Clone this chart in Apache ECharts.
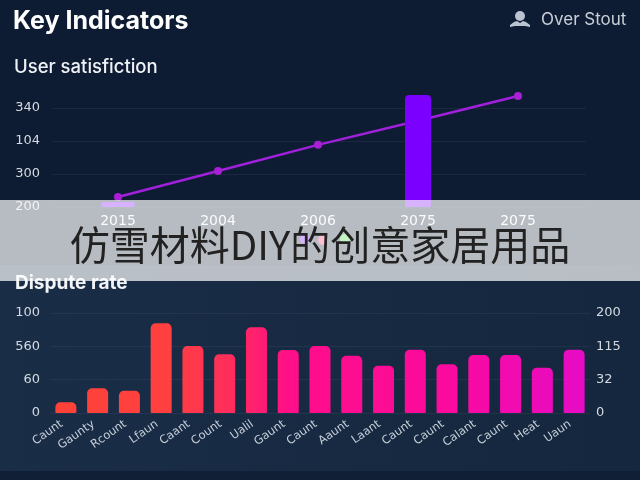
<!DOCTYPE html>
<html><head><meta charset="utf-8">
<style>html,body{margin:0;padding:0;background:#0e1c33}#c{width:640px;height:480px}</style>
<script src="https://cdn.jsdelivr.net/npm/echarts@6/dist/echarts.min.js"></script>
</head><body><div id="c"></div>
<script>
const years = ['2015','2004','2006','2075','2075'];
const lineValues = [230,309,388,461,536];
const wideBars = [215,null,null,null,null];
const narrowBars = [null,null,null,539,null];
const topTickValues = [200,300,400,500];
const topTickLabels = ['200','300','104','340'];
const cats = ['Caunt','Gaunty','Rcount','Lfaun','Caant','Count','Ualil','Gaunt','Caunt','Aaunt','Laant','Caunt','Caunt','Calant','Caunt','Heat','Uaun'];
const disputeValues = [32,74,67,269,201,176,257,189,201,172,142,190,146,174,174,136,190];
const leftLabels = ['0','60','560','100'];
const rightLabels = ['0','32','115','200'];
const bannerText = '仿雪材料DIY的创意家居用品';

const dv = '"DejaVu Sans"';
const grid = 'rgba(255,255,255,0.05)';
const chart = echarts.init(document.getElementById('c'), null, {renderer:'canvas'});
const barGrad = new echarts.graphic.LinearGradient(0,0,640,0,[
  {offset:0.08,color:'#ff4238'},{offset:0.26,color:'#ff4040'},{offset:0.36,color:'#ff2d5c'},{offset:0.45,color:'#ff0f88'},
  {offset:0.7,color:'#fb0a9e'},{offset:0.92,color:'#e50cc6'}],true);

chart.setOption({
  animation:false,
  backgroundColor:'#0e1c33',
  grid:[
    {left:68,right:72,top:88,height:119},
    {left:52,right:54,top:88,height:119},
    {left:50,right:50,top:313,height:100},
    {left:68,right:72,top:88,height:119}
  ],
  xAxis:[
    {gridIndex:0,type:'category',data:years,axisLine:{show:false},axisTick:{show:false},
     axisLabel:{color:'#f2f4f7',fontSize:14,fontFamily:dv,margin:7}},
    {gridIndex:1,type:'category',data:years,show:false},
    {gridIndex:2,type:'category',data:cats,axisLine:{show:false},axisTick:{show:false},
     axisLabel:{color:'#c6ced8',fontSize:11.5,fontFamily:dv,rotate:35,margin:7,interval:0,padding:[0,5,0,0]}},
    {gridIndex:3,type:'category',data:years,show:false}
  ],
  yAxis:[
    {gridIndex:0,type:'value',min:200,max:560,interval:100,show:false},
    {gridIndex:1,type:'value',min:200,max:560,interval:100,axisLine:{show:false},axisTick:{show:false},
     splitLine:{lineStyle:{color:grid},showMaxLine:false},
     axisLabel:{color:'#d5dae1',fontSize:13,fontFamily:dv,margin:12,showMaxLabel:false,padding:[2,0,0,0],
       formatter:v=>{const i=topTickValues.indexOf(v);return i<0?'':topTickLabels[i];}}},
    {gridIndex:2,type:'value',min:0,max:300,interval:100,axisLine:{show:false},axisTick:{show:false},
     splitLine:{lineStyle:{color:grid}},
     axisLabel:{color:'#d5dae1',fontSize:13,fontFamily:dv,margin:10,padding:[0,0,2,0],
       formatter:v=>leftLabels[v/100]}},
    {gridIndex:2,type:'value',position:'right',min:0,max:300,interval:100,axisLine:{show:false},axisTick:{show:false},
     splitLine:{show:false},
     axisLabel:{color:'#d5dae1',fontSize:13,fontFamily:dv,margin:6,padding:[0,0,2,0],
       formatter:v=>rightLabels[v/100]}},
    {gridIndex:3,type:'value',min:200,max:560,interval:100,show:false}
  ],
  series:[
    {type:'line',xAxisIndex:0,yAxisIndex:0,data:lineValues,z:2,symbol:'circle',symbolSize:8,
     lineStyle:{color:'#a020dc',width:2.5},itemStyle:{color:'#a81fd6'}},
    {type:'bar',xAxisIndex:0,yAxisIndex:0,data:wideBars,barWidth:33,z:3,
     itemStyle:{color:'#7b00ff'}},
    {type:'bar',xAxisIndex:3,yAxisIndex:4,data:narrowBars,barWidth:26,z:3,
     itemStyle:{color:'#7b00ff',borderRadius:[4,4,0,0]}},
    {type:'bar',xAxisIndex:2,yAxisIndex:2,data:disputeValues,barWidth:21,
     itemStyle:{color:barGrad,borderRadius:[5,5,1,1]}}
  ],
  graphic:[
    {type:'rect',z:-10,shape:{x:0,y:265,width:640,height:206},
     style:{fill:new echarts.graphic.LinearGradient(0,0,1,0,[{offset:0,color:'#1a2d47'},{offset:1,color:'#15273e'}])}},
    {type:'rect',z:-10,shape:{x:0,y:471,width:640,height:9},style:{fill:'#101f35'}},
    {type:'text',z:5,style:{text:'Key Indicators',x:13,y:21,verticalAlign:'middle',fill:'#fff',font:'bold 25px Inter'}},
    {type:'text',z:5,style:{text:'Over Stout',x:541,y:20,verticalAlign:'middle',fill:'#c9cfd8',font:'17px Inter'}},
    {type:'circle',z:5,shape:{cx:520,cy:16,r:5},style:{fill:'#b9c3d2'}},
    {type:'polygon',z:5,shape:{points:[[510,27],[510,25],[514,22],[517,21],[520,23],[523,21],[526,22],[530,25],[530,27],[525,26],[515,26]]},style:{fill:'#b9c3d2'}},
    {type:'text',z:5,style:{text:'User satisfiction',x:14,y:67,verticalAlign:'middle',fill:'#eef1f5',font:'500 18.5px Inter'}},
    {type:'text',z:5,style:{text:'Dispute rate',x:15,y:283,verticalAlign:'middle',fill:'#f2f4f7',font:'bold 19px Inter'}},
    {type:'circle',z:5,shape:{cx:305,cy:239,r:5},style:{fill:'#7b00ff'}},
    {type:'circle',z:5,shape:{cx:323,cy:240,r:5},style:{fill:'#ff2a6a'}},
    {type:'circle',z:5,shape:{cx:345,cy:239,r:5},style:{fill:'#33dd33'}},
    {type:'rect',z:100,shape:{x:0,y:200,width:640,height:81},style:{fill:'rgba(255,255,255,0.7)'}},
    {type:'text',z:101,style:{text:bannerText,x:320,y:245,align:'center',verticalAlign:'middle',fill:'#222',font:'40px "Noto Sans CJK SC"'}}
  ]
});
</script></body></html>
